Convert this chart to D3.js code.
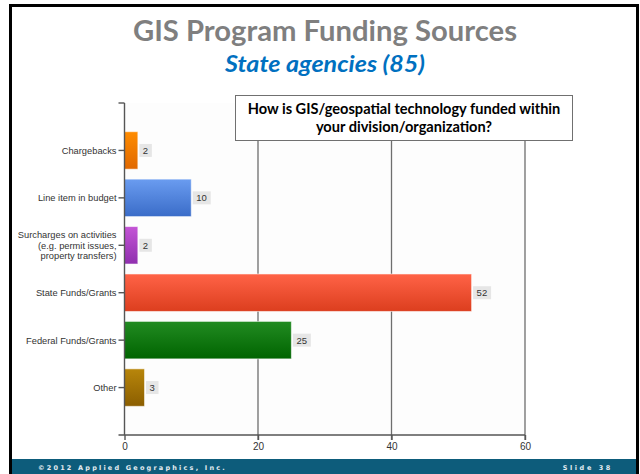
<!DOCTYPE html>
<html><head><meta charset="utf-8">
<script src="https://cdn.jsdelivr.net/npm/d3@7"></script>
<style>body{margin:0;background:#fff}svg{display:block}</style>
</head><body>
<script>
const categories = ["Chargebacks","Line item in budget","Surcharges on activities\n(e.g. permit issues,\nproperty transfers)","State Funds/Grants","Federal Funds/Grants","Other"];
const values = [2,10,2,52,25,3];
const xTicks = [0,20,40,60];
const barColors = [["#ff8c00","#e06800"],["#6a9cf0","#3a6cc8"],["#c455d6","#8f2fae"],["#ff6347","#dc3e1e"],["#228b22","#006400"],["#b8860b","#8b5e00"]];
const title = "GIS Program Funding Sources";
const subtitle = "State agencies (85)";
const question = ["How is GIS/geospatial technology funded within","your division/organization?"];

const W=640,H=474;
const svg=d3.select("body").append("svg").attr("width",W).attr("height",H);
// slide frame
svg.append("rect").attr("x",10.5).attr("y",5.5).attr("width",627).attr("height",470).attr("fill","#fff").attr("stroke","#000").attr("stroke-width",3);
// footer
svg.append("rect").attr("x",12).attr("y",459).attr("width",624).attr("height",15).attr("fill","#0d5c7b");
svg.append("text").attr("x",38).attr("y",470).attr("fill","#e4edf2").attr("font-family","DejaVu Sans").attr("font-size",6.5).attr("font-weight","bold").attr("letter-spacing",2.2).text("©2012 Applied Geographics, Inc.");
svg.append("text").attr("x",613).attr("y",470).attr("text-anchor","end").attr("fill","#e4edf2").attr("font-family","DejaVu Sans").attr("font-size",6.5).attr("font-weight","bold").attr("letter-spacing",2.6).text("Slide 38");

// titles
svg.append("text").attr("x",325).attr("y",41).attr("text-anchor","middle").attr("fill","#7f7f7f").attr("font-family","Lato, 'Open Sans', sans-serif").attr("font-weight","bold").attr("font-size",28).attr("textLength",384).attr("lengthAdjust","spacingAndGlyphs").text(title);
svg.append("text").attr("x",325).attr("y",72).attr("text-anchor","middle").attr("fill","#0070c0").attr("font-family","Lato, 'Open Sans', sans-serif").attr("font-weight","bold").attr("font-style","italic").attr("font-size",22).attr("textLength",200).attr("lengthAdjust","spacingAndGlyphs").text(subtitle);

const x=d3.scaleLinear().domain([0,60]).range([124.5,525]);
const y=d3.scalePoint().domain(categories).range([103,435]).padding(1);
const step=y.step(), bh=step*0.79;

const defs=svg.append("defs");
barColors.forEach((c,i)=>{
  const g=defs.append("linearGradient").attr("id","g"+i).attr("x1",0).attr("y1",0).attr("x2",0).attr("y2",1);
  g.append("stop").attr("offset",0).attr("stop-color",c[0]);
  g.append("stop").attr("offset",1).attr("stop-color",c[1]);
});

// plot bg
svg.append("rect").attr("x",124.5).attr("y",103).attr("width",400.5).attr("height",332).attr("fill","#fdfdfd");

// gridlines
svg.append("g").selectAll("line").data(xTicks.slice(1)).join("line")
  .attr("x1",d=>x(d)).attr("x2",d=>x(d)).attr("y1",103).attr("y2",440)
  .attr("stroke","#6e6e6e").attr("stroke-width",1.3);

// bars
const rows=svg.append("g").selectAll("g").data(categories).join("g");
rows.append("rect").attr("x",x(0)).attr("y",d=>y(d)-bh/2).attr("width",(d,i)=>x(values[i])-x(0)).attr("height",bh)
  .attr("fill",(d,i)=>`url(#g${i})`).attr("stroke","rgba(255,255,255,0.55)").attr("stroke-width",1);
rows.append("rect").attr("x",(d,i)=>x(values[i])+1.5).attr("y",d=>y(d)-6.5)
  .attr("width",(d,i)=>String(values[i]).length*5.5+7).attr("height",13).attr("fill","#e6e6e6");
rows.append("text").attr("x",(d,i)=>x(values[i])+5).attr("y",d=>y(d)+3.5)
  .attr("font-family","Arial, 'Liberation Sans', sans-serif").attr("font-size",9.5).attr("fill","#333")
  .text((d,i)=>values[i]);

// y axis
const ya=svg.append("g").attr("transform","translate(124.5,0)");
ya.append("line").attr("x1",0).attr("x2",0).attr("y1",103).attr("y2",435).attr("stroke","#555").attr("stroke-width",1.4);
ya.append("line").attr("x1",-6).attr("x2",0).attr("y1",103).attr("y2",103).attr("stroke","#555").attr("stroke-width",1.4);
ya.selectAll(".t").data(categories).join("line").attr("x1",-6).attr("x2",0).attr("y1",d=>y(d)).attr("y2",d=>y(d)).attr("stroke","#555").attr("stroke-width",1.4);
ya.selectAll("text").data(categories).join("text")
  .attr("x",-8).attr("y",d=>y(d)).attr("text-anchor","end")
  .attr("font-family","Arial, 'Liberation Sans', sans-serif").attr("font-size",9.3).attr("fill","#333")
  .each(function(d){
    const lines=d.split("\n"); const el=d3.select(this);
    lines.forEach((l,k)=>el.append("tspan").attr("x",-8).attr("y",y(d)+3.5+(k-(lines.length-1)/2)*10.5).text(l));
  });

// x axis
const xa=svg.append("g").attr("transform","translate(0,435)")
  .call(d3.axisBottom(x).tickValues(xTicks).tickSize(5).tickSizeOuter(0).tickPadding(3));
xa.select(".domain").remove();
xa.insert("line",":first-child").attr("x1",118.5).attr("x2",525).attr("stroke","#555").attr("stroke-width",1.4);
xa.selectAll(".tick line").attr("stroke","#555").attr("stroke-width",1.4);
xa.selectAll(".tick text").attr("font-family","Arial, 'Liberation Sans', sans-serif").attr("font-size",10).attr("fill","#333");

// question box
svg.append("rect").attr("x",235.5).attr("y",95.5).attr("width",337).attr("height",45).attr("fill","#fff").attr("stroke","#707070").attr("stroke-width",1);
question.forEach((q,k)=>svg.append("text").attr("x",404).attr("y",113.5+k*18.5).attr("text-anchor","middle")
  .attr("font-family","Lato, 'Open Sans', sans-serif").attr("font-weight","bold").attr("font-size",14.6).attr("fill","#000").text(q));
</script>
</body></html>
